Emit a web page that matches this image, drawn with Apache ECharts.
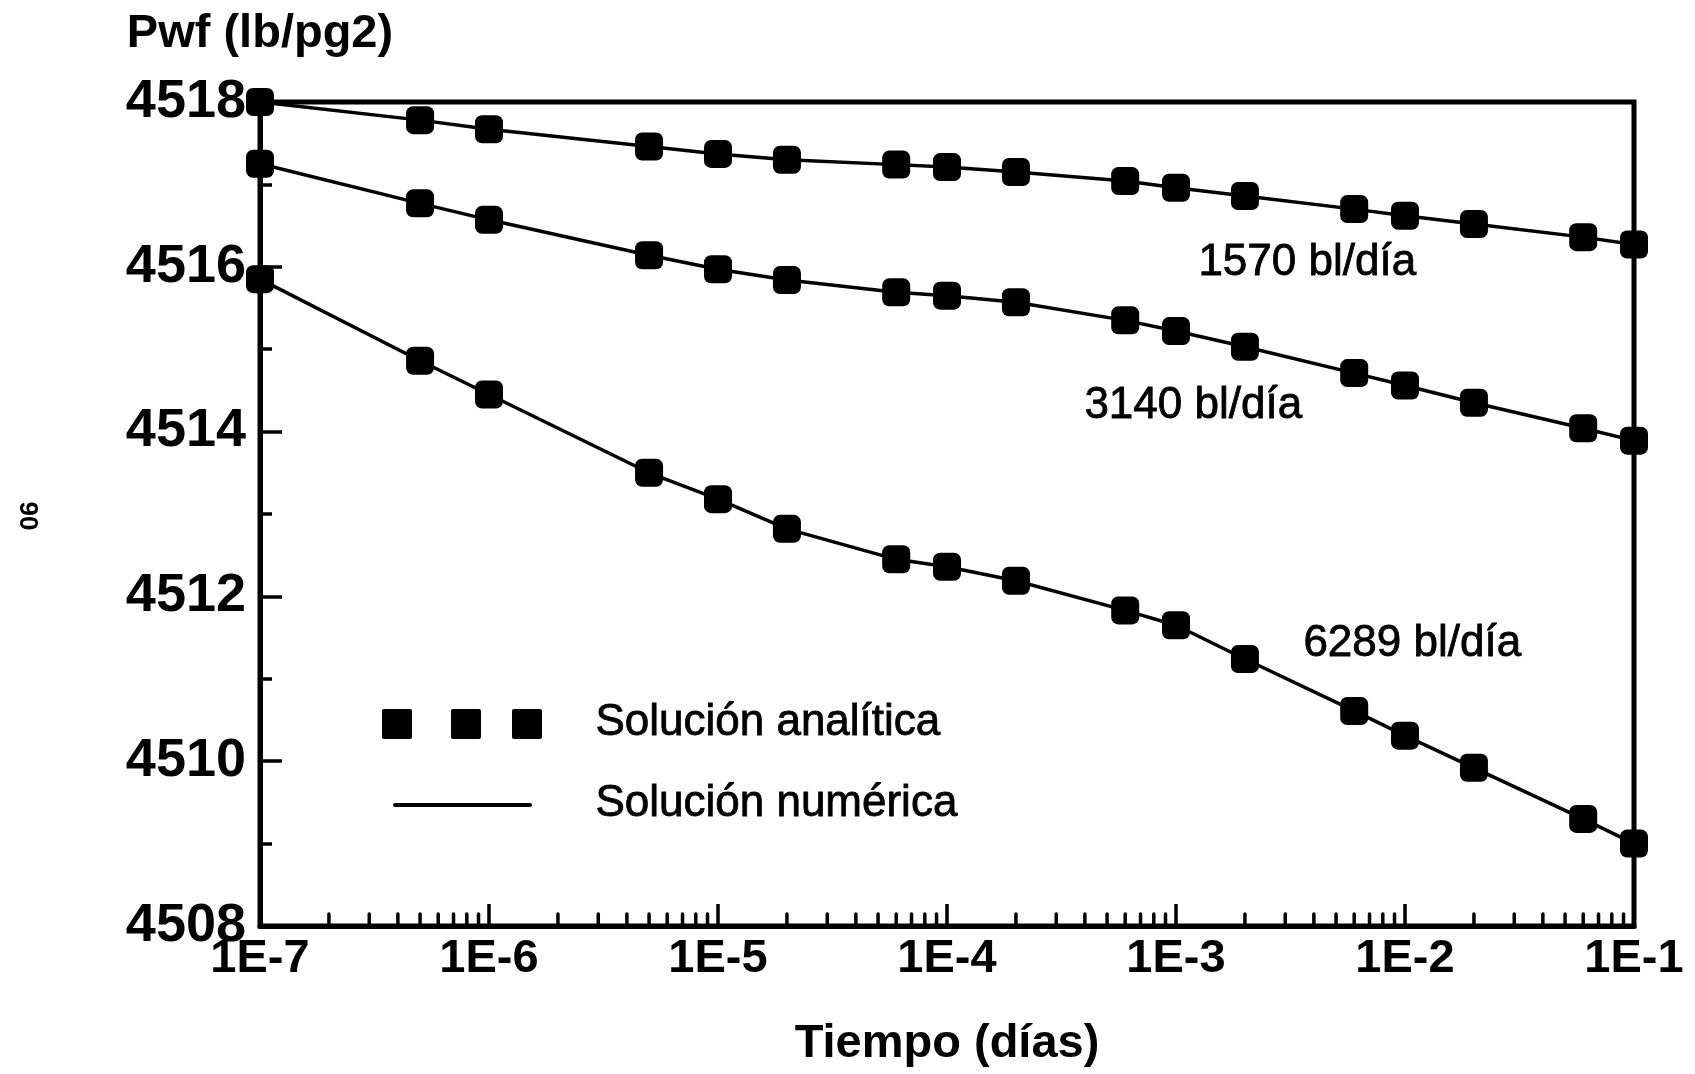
<!DOCTYPE html>
<html>
<head>
<meta charset="utf-8">
<script src="https://cdn.jsdelivr.net/npm/echarts@6/dist/echarts.min.js"></script>
<style>
html,body{margin:0;padding:0;background:#fff;}
#chart{width:1695px;height:1074px;}
</style>
</head>
<body>
<div id="chart"></div>
<script>
// ---- data ----
const times = [1e-7, 5e-7, 1e-6, 5e-6, 1e-5, 2e-5, 6e-5, 1e-4, 2e-4, 6e-4, 1e-3, 2e-3, 6e-3, 1e-2, 2e-2, 6e-2, 1e-1];
const pwf1570 = [4518.00, 4517.78, 4517.67, 4517.46, 4517.37, 4517.30, 4517.24, 4517.21, 4517.15, 4517.04, 4516.96, 4516.86, 4516.70, 4516.62, 4516.52, 4516.36, 4516.27];
const pwf3140 = [4517.25, 4516.77, 4516.57, 4516.14, 4515.97, 4515.84, 4515.69, 4515.65, 4515.57, 4515.35, 4515.22, 4515.03, 4514.71, 4514.56, 4514.35, 4514.04, 4513.89];
const pwf6289 = [4515.85, 4514.86, 4514.45, 4513.50, 4513.18, 4512.82, 4512.45, 4512.36, 4512.19, 4511.83, 4511.65, 4511.24, 4510.61, 4510.31, 4509.92, 4509.30, 4509.00];
const rateLabels = ['1570 bl/día', '3140 bl/día', '6289 bl/día'];
const xDecades = [1e-7, 1e-6, 1e-5, 1e-4, 1e-3, 1e-2, 1e-1];
const xTickLabels = ['1E-7', '1E-6', '1E-5', '1E-4', '1E-3', '1E-2', '1E-1'];
const yMin = 4508, yMax = 4518, yStep = 2;
const legendLabels = ['Solución analítica', 'Solución numérica'];
const yTitle = 'Pwf (lb/pg2)';
const xTitle = 'Tiempo (días)';

// minor log ticks (2..9 inside each decade)
const minorTicks = [];
for (let d = 0; d < xDecades.length - 1; d++) {
  for (let m = 2; m <= 9; m++) minorTicks.push([xDecades[d] * m]);
}

const FONT = "'Liberation Sans', Arial, Helvetica, sans-serif";
const pair = arr => times.map((t, i) => [t, arr[i]]);
const allSeries = [pwf1570, pwf3140, pwf6289];

const series = [];
allSeries.forEach((s, k) => {
  series.push({
    name: 'num' + k, type: 'line', data: pair(s), showSymbol: false, symbol: 'none',
    lineStyle: { color: '#000', width: 3.5, opacity: 1 }, clip: false, z: 3, silent: true
  });
});
allSeries.forEach((s, k) => {
  series.push({
    name: 'ana' + k, type: 'scatter', data: pair(s), symbol: 'roundRect', symbolSize: 28,
    itemStyle: { color: '#000', opacity: 1 }, clip: false, z: 4, silent: true
  });
});
series.push({
  type: 'custom', data: minorTicks, silent: true, z: 5, clip: false,
  renderItem: function (params, api) {
    const p = api.coord([api.value(0), yMin]);
    return { type: 'line', shape: { x1: p[0], y1: p[1], x2: p[0], y2: p[1] - 12 },
      style: { stroke: '#000', lineWidth: 3.5, lineCap: 'round' } };
  }
});

const txt = (text, left, top) => ({ type: 'text', left: left, top: top,
  style: { text: text, font: '44px ' + FONT, fill: '#000', stroke: '#000', lineWidth: 0.8 } });
const sq = x => ({ type: 'rect', shape: { x: x, y: 709, width: 30, height: 30, r: 2 }, style: { fill: '#000' } });

const chart = echarts.init(document.getElementById('chart'), null, { renderer: 'canvas' });
chart.setOption({
  backgroundColor: '#fff',
  animation: false,
  textStyle: { fontFamily: FONT },
  grid: { left: 260, right: 61, top: 102, bottom: 148, show: true, borderColor: '#000', borderWidth: 5 },
  xAxis: {
    type: 'log', logBase: 10, min: xDecades[0], max: xDecades[xDecades.length - 1], splitNumber: 6,
    axisLine: { lineStyle: { color: '#000', width: 5 } },
    axisTick: { inside: true, length: 22, lineStyle: { color: '#000', width: 3.5 } },
    splitLine: { show: false },
    axisLabel: {
      color: '#000', fontSize: 47, fontWeight: 'bold', fontFamily: FONT, margin: 10,
      showMinLabel: true, showMaxLabel: true,
      formatter: v => { const i = xDecades.findIndex(d => Math.abs(Math.log10(d) - Math.log10(v)) < 1e-6); return i >= 0 ? xTickLabels[i] : ''; }
    },
    name: xTitle, nameLocation: 'middle', nameGap: 95,
    nameTextStyle: { color: '#000', fontSize: 47, fontWeight: 'bold', fontFamily: FONT }
  },
  yAxis: {
    type: 'value', min: yMin, max: yMax, interval: yStep,
    axisLine: { lineStyle: { color: '#000', width: 5 } },
    axisTick: { inside: true, length: 22, lineStyle: { color: '#000', width: 3.5 } },
    minorTick: { show: true, splitNumber: 2, length: 12, lineStyle: { color: '#000', width: 3.5 } },
    splitLine: { show: false }, minorSplitLine: { show: false },
    axisLabel: { color: '#000', fontSize: 54, fontWeight: 'bold', fontFamily: FONT, margin: 14, formatter: v => String(v) },
    name: yTitle, nameLocation: 'end', nameGap: 44,
    nameTextStyle: { color: '#000', fontSize: 47, fontWeight: 'bold', fontFamily: FONT, align: 'center' }
  },
  series: series,
  graphic: [
    txt(rateLabels[0], 1198, 240),
    txt(rateLabels[1], 1084, 383),
    txt(rateLabels[2], 1303, 621),
    // legend
    sq(382), sq(451), sq(512),
    txt(legendLabels[0], 595, 700),
    { type: 'line', shape: { x1: 395, y1: 805, x2: 530, y2: 805 }, style: { stroke: '#000', lineWidth: 4, lineCap: 'round' } },
    txt(legendLabels[1], 595, 781),
    // page number from the scan
    { type: 'text', x: 27, y: 516, rotation: -Math.PI / 2,
      style: { text: '90', font: 'bold 26px ' + FONT, fill: '#000', align: 'center', verticalAlign: 'middle' } }
  ]
});
</script>
</body>
</html>
